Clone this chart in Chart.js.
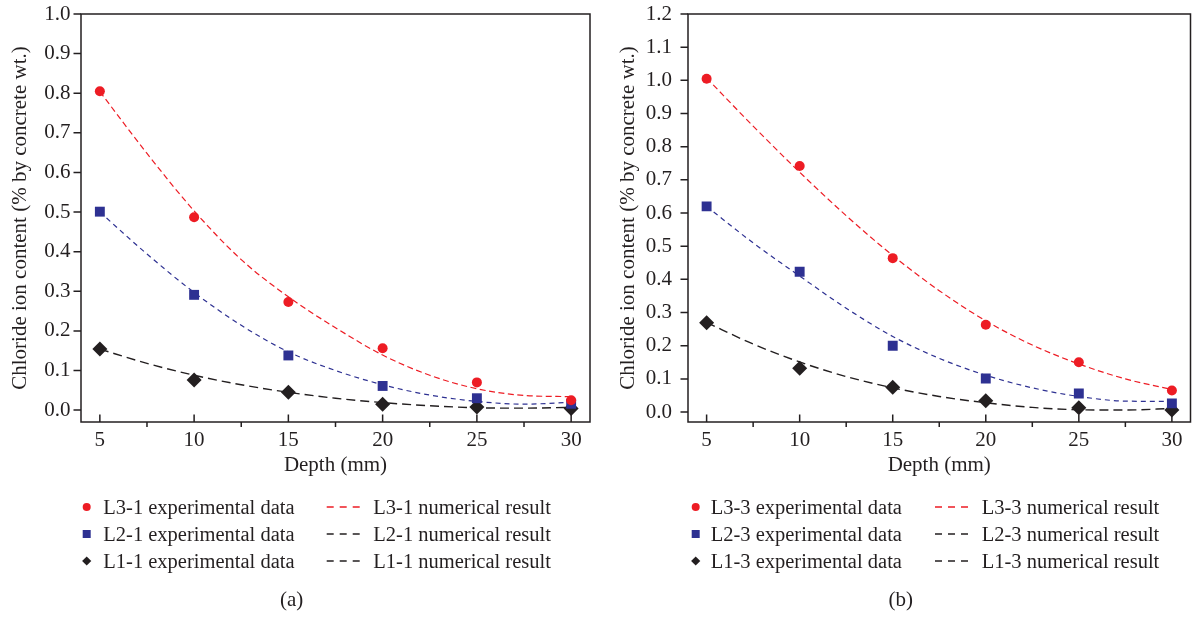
<!DOCTYPE html>
<html>
<head>
<meta charset="utf-8">
<script src="https://cdn.jsdelivr.net/npm/chart.js@4.4.1/dist/chart.umd.min.js"></script>
<style>
  html, body { margin: 0; padding: 0; background: #fff; }
  #page {
    position: relative; width: 1198px; height: 618px; overflow: hidden;
    font-family: "Liberation Serif", "Times New Roman", serif; color: #231f20;
  }
  canvas { position: absolute; top: 0; }
  #keys { position: absolute; left: 0; top: 0; }
  .lg { position: absolute; font-size: 20.5px; line-height: 27px; white-space: nowrap; }
  .cap { position: absolute; font-size: 21px; line-height: 27px; width: 60px; text-align: center; }
</style>
</head>
<body>
<div id="page">
  <canvas id="chartA" width="600" height="480" style="left:0"></canvas>
  <canvas id="chartB" width="598" height="480" style="left:600px"></canvas>
  <svg id="keys" width="1198" height="618" xmlns="http://www.w3.org/2000/svg"></svg>
</div>
<script>
const INK = '#231f20';
const RED = '#ed1c24';
const BLUE = '#2e3192';

// Sampling depths of the measured profiles (mm)
const depth = [5, 10, 15, 20, 25, 30];
// Depths at which the numerical profiles are plotted (mm)
const depthFine = [5, 7.5, 10, 12.5, 15, 17.5, 20, 22.5, 25, 27.5, 30];

// Panel (a): measured chloride content (% by concrete wt.)
const expL3_1 = [0.805, 0.487, 0.273, 0.156, 0.070, 0.025];
const expL2_1 = [0.501, 0.291, 0.138, 0.061, 0.030, 0.016];
const expL1_1 = [0.154, 0.076, 0.045, 0.015, 0.008, 0.004];
// Panel (a): numerical results
const numL3_1 = [0.804, 0.648, 0.503, 0.380, 0.286, 0.208, 0.139, 0.088, 0.054, 0.037, 0.034];
const numL2_1 = [0.500, 0.394, 0.297, 0.214, 0.147, 0.100, 0.064, 0.038, 0.022, 0.015, 0.020];
const numL1_1 = [0.154, 0.118, 0.088, 0.064, 0.045, 0.030, 0.019, 0.011, 0.006, 0.005, 0.007];

// Panel (b): measured chloride content (% by concrete wt.)
const expL3_3 = [1.005, 0.742, 0.464, 0.263, 0.150, 0.065];
const expL2_3 = [0.620, 0.423, 0.200, 0.101, 0.056, 0.026];
const expL1_3 = [0.269, 0.132, 0.075, 0.034, 0.013, 0.006];
// Panel (b): numerical results
const numL3_3 = [1.007, 0.862, 0.723, 0.592, 0.472, 0.366, 0.275, 0.202, 0.145, 0.100, 0.068];
const numL2_3 = [0.620, 0.510, 0.410, 0.313, 0.228, 0.162, 0.111, 0.073, 0.047, 0.033, 0.032];
const numL1_3 = [0.270, 0.205, 0.151, 0.107, 0.073, 0.047, 0.028, 0.014, 0.007, 0.006, 0.011];

// Axis ticks
const xTicks = [5, 10, 15, 20, 25, 30];
const xMinorTicks = [7.5, 12.5, 17.5, 22.5, 27.5];
const yTicksA = [0, 0.1, 0.2, 0.3, 0.4, 0.5, 0.6, 0.7, 0.8, 0.9, 1.0];
const yTicksB = [0, 0.1, 0.2, 0.3, 0.4, 0.5, 0.6, 0.7, 0.8, 0.9, 1.0, 1.1, 1.2];

const FAMILY = '"Liberation Serif", "Times New Roman", serif';
const tickFont = { family: FAMILY, size: 21, lineHeight: 1 };
const titleFont = { family: FAMILY, size: 21, lineHeight: 1 };

const pts = (xs, ys) => xs.map((x, i) => ({ x, y: ys[i] }));

function measured(label, ys, color, style, r) {
  return {
    label, data: pts(depth, ys), showLine: false,
    pointStyle: style, pointRadius: r, pointBackgroundColor: color,
    pointBorderWidth: 0, pointHoverRadius: r, order: 0
  };
}

function profile(label, ys, color, dash, w) {
  return {
    label, data: pts(depthFine, ys), showLine: true, fill: false,
    borderColor: color, borderWidth: w, borderDash: dash,
    pointRadius: 0, pointHoverRadius: 0, cubicInterpolationMode: 'monotone', order: 1
  };
}

// Closed frame round the plot area, inward major / outward minor x ticks, outward y ticks
const axisFrame = {
  id: 'axisFrame',
  beforeDatasetsDraw(chart, _args, opts) {
    const { ctx, chartArea: a } = chart;
    const xs = chart.scales.x, ys = chart.scales.y;
    ctx.save();
    ctx.strokeStyle = INK;
    ctx.lineWidth = 1.5;
    ctx.strokeRect(a.left, a.top, a.right - a.left, a.bottom - a.top);
    ctx.beginPath();
    for (const v of xTicks) {
      const p = xs.getPixelForValue(v);
      ctx.moveTo(p, a.bottom); ctx.lineTo(p, a.bottom - 7.5);
    }
    for (const v of xMinorTicks) {
      const p = xs.getPixelForValue(v);
      ctx.moveTo(p, a.bottom); ctx.lineTo(p, a.bottom + 5);
    }
    for (const v of opts.yTicks) {
      const p = ys.getPixelForValue(v);
      ctx.moveTo(a.left, p); ctx.lineTo(a.left - 7.5, p);
    }
    ctx.stroke();
    ctx.restore();
  }
};

// Fixed axis box sizes so both plot areas sit at the same place
function fixBox(s, w, h) {
  if (w !== null) s.width = w;
  if (h !== null) s.height = h;
  s.paddingTop = 0; s.paddingBottom = 0; s.paddingLeft = 0; s.paddingRight = 0;
}

function makeChart(id, cfg) {
  return new Chart(document.getElementById(id), {
    type: 'scatter',
    data: { datasets: cfg.datasets },
    plugins: [axisFrame],
    options: {
      responsive: false, animation: false, devicePixelRatio: 1, events: [],
      layout: { padding: { left: 0, right: cfg.padRight, top: 14, bottom: 0 } },
      plugins: {
        legend: { display: false },
        tooltip: { enabled: false },
        axisFrame: { yTicks: cfg.yTicks }
      },
      scales: {
        x: {
          type: 'linear', min: 4, max: 31,
          grid: { display: false, drawTicks: false },
          border: { display: false },
          afterBuildTicks: s => { s.ticks = xTicks.map(v => ({ value: v })); },
          afterFit: s => fixBox(s, null, 58),
          ticks: { color: INK, font: tickFont, padding: 7.5, maxRotation: 0, autoSkip: false,
                   callback: v => String(v) },
          title: { display: true, text: 'Depth (mm)', color: INK, font: titleFont,
                   padding: { top: 0, bottom: 4.5 } }
        },
        y: {
          type: 'linear', min: -0.03, max: cfg.yMax,
          grid: { display: false, drawTicks: false },
          border: { display: false },
          afterBuildTicks: s => { s.ticks = cfg.yTicks.map(v => ({ value: v })); },
          afterFit: s => fixBox(s, cfg.yWidth, null),
          ticks: { color: INK, font: tickFont, padding: cfg.yPad, autoSkip: false,
                   callback: v => v.toFixed(1) },
          title: { display: true, text: 'Chloride ion content (% by concrete wt.)', color: INK,
                   font: titleFont, padding: { top: cfg.titlePad, bottom: 0 } }
        }
      }
    }
  });
}

makeChart('chartA', {
  yMax: 1.0, yTicks: yTicksA, yWidth: 81, yPad: 10.5, titlePad: 9.5, padRight: 10,
  datasets: [
    measured('L3-1 experimental data', expL3_1, RED, 'circle', 5),
    measured('L2-1 experimental data', expL2_1, BLUE, 'rect', 7),
    measured('L1-1 experimental data', expL1_1, INK, 'rectRot', 7.5),
    profile('L3-1 numerical result', numL3_1, RED, [6, 3.5], 1.2),
    profile('L2-1 numerical result', numL2_1, BLUE, [5, 4], 1.2),
    profile('L1-1 numerical result', numL1_1, INK, [9, 5], 1.4)
  ]
});

makeChart('chartB', {
  yMax: 1.2, yTicks: yTicksB, yWidth: 88, yPad: 16, titlePad: 17.5, padRight: 2,
  datasets: [
    measured('L3-3 experimental data', expL3_3, RED, 'circle', 5),
    measured('L2-3 experimental data', expL2_3, BLUE, 'rect', 7),
    measured('L1-3 experimental data', expL1_3, INK, 'rectRot', 7.5),
    profile('L3-3 numerical result', numL3_3, RED, [6, 3.5], 1.2),
    profile('L2-3 numerical result', numL2_3, BLUE, [5, 4], 1.2),
    profile('L1-3 numerical result', numL1_3, INK, [9, 5], 1.4)
  ]
});

// Legends under each panel: markers on the left, dashed keys on the right
const legendRowsY = [507, 534, 561];
const legends = [
  { markX: 86.7, textX: 103.3, dashX: 326.7, text2X: 373.3, tag: '1', cap: '(a)', capX: 291.7 },
  { markX: 695.7, textX: 710.7, dashX: 935, text2X: 981.7, tag: '3', cap: '(b)', capX: 900.8 }
];
const series = [
  { name: 'L3', mark: 'circle', fill: RED, dash: RED },
  { name: 'L2', mark: 'square', fill: BLUE, dash: INK },
  { name: 'L1', mark: 'diamond', fill: INK, dash: INK }
];

const svg = document.getElementById('keys');
const page = document.getElementById('page');
const NS = 'http://www.w3.org/2000/svg';
function svgEl(tag, attrs) {
  const el = document.createElementNS(NS, tag);
  for (const k in attrs) el.setAttribute(k, attrs[k]);
  svg.appendChild(el);
}
function textEl(cls, x, y, txt) {
  const d = document.createElement('div');
  d.className = cls;
  d.style.left = x + 'px';
  d.style.top = y + 'px';
  d.textContent = txt;
  page.appendChild(d);
}

legends.forEach(lg => {
  series.forEach((s, i) => {
    const cy = legendRowsY[i];
    const cx = lg.markX;
    if (s.mark === 'circle') svgEl('circle', { cx, cy, r: 4, fill: s.fill });
    else if (s.mark === 'square') svgEl('rect', { x: cx - 4, y: cy - 4, width: 8, height: 8, fill: s.fill });
    else svgEl('polygon', { points: `${cx},${cy - 4.6} ${cx + 4.6},${cy} ${cx},${cy + 4.6} ${cx - 4.6},${cy}`, fill: s.fill });
    svgEl('line', { x1: lg.dashX, y1: cy, x2: lg.dashX + 33, y2: cy, stroke: s.dash,
                    'stroke-width': 1.3, 'stroke-dasharray': '7 6' });
    textEl('lg', lg.textX, cy - 13.5, `${s.name}-${lg.tag} experimental data`);
    textEl('lg', lg.text2X, cy - 13.5, `${s.name}-${lg.tag} numerical result`);
  });
  textEl('cap', lg.capX - 30, 585.5, lg.cap);
});
</script>
</body>
</html>
